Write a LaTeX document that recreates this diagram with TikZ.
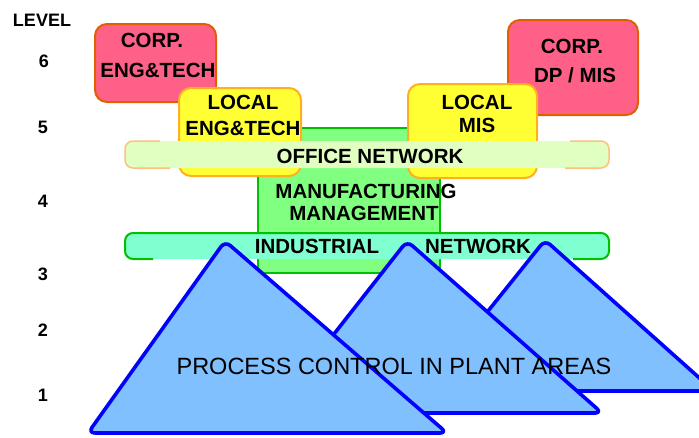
\documentclass[tikz,border=0pt]{standalone}
\usepackage{fontspec}
\setmainfont{Liberation Sans}
\usetikzlibrary{shapes.misc}
\definecolor{corpfill}{HTML}{FF6088}
\definecolor{corpline}{HTML}{E06000}
\definecolor{localfill}{HTML}{FFFF33}
\definecolor{localline}{HTML}{FFB020}
\definecolor{mgmtfill}{HTML}{80FF80}
\definecolor{mgmtline}{HTML}{00C000}
\definecolor{offfill}{HTML}{E0FFC0}
\definecolor{offline}{HTML}{FFC080}
\definecolor{indfill}{HTML}{80FFD0}
\definecolor{indline}{HTML}{00C000}
\definecolor{trifill}{HTML}{80C0FF}
\definecolor{triline}{HTML}{0000FF}
\begin{document}
\begin{tikzpicture}[x=1pt,y=-1pt,
  lbl/.style={font=\fontsize{20.5}{22}\selectfont\bfseries, inner sep=0pt},
  lvl/.style={font=\fontsize{18}{20}\selectfont\bfseries, inner sep=0pt},
  corpbox/.style={draw=corpline, fill=corpfill, line width=2pt, rounded corners=12pt, inner sep=0pt},
  localbox/.style={draw=localline, fill=localfill, line width=2pt, rounded corners=12pt, inner sep=0pt},
  mgmtbox/.style={chamfered rectangle, chamfered rectangle xsep=10pt, chamfered rectangle ysep=10pt, draw=mgmtline, fill=mgmtfill, line width=2pt, inner sep=0pt},
  band/.style={rounded corners=8pt, inner sep=0pt},
  tri/.style={draw=triline, fill=trifill, line width=3.6pt, rounded corners=7pt, line join=round},
]
\useasboundingbox (0,0) rectangle (699,437);

% corporate boxes
\node[corpbox, minimum width=121pt, minimum height=78pt] (ce) at (155.5,63) {};
\node[corpbox, minimum width=130pt, minimum height=95pt] (cd) at (573,67.5) {};
\node[lbl] (ce1) at (152,40) {CORP.};
\node[lbl] (ce2) at (158,70) {ENG\&TECH};
\node[lbl] (cd1) at (572,46) {CORP.};
\node[lbl] (cd2) at (575,75) {DP / MIS};

% manufacturing management box
\node[mgmtbox, minimum width=182pt, minimum height=145pt] (mm) at (349,200.5) {};

% local boxes
\node[localbox, minimum width=122pt, minimum height=88pt] (le) at (240,132) {};
\node[localbox, minimum width=129pt, minimum height=94pt] (lm) at (472.5,131) {};
\node[lbl] (le1) at (243,102) {LOCAL};
\node[lbl] (le2) at (243,128) {ENG\&TECH};
\node[lbl] (lm1) at (477,102) {LOCAL};
\node[lbl] (lm2) at (477,125) {MIS};

% office network band
\node[band, fill=offfill, minimum width=484pt, minimum height=27pt] (on) at (367,154.5) {};
\draw[offline, line width=1.5pt, rounded corners=8pt] (160,141) -- (125,141) -- (125,168) -- (170,168);
\draw[offline, line width=1.5pt, rounded corners=8pt] (570,141) -- (609,141) -- (609,168) -- (565,168);
\node[lbl] (ont) at (370,156) {OFFICE NETWORK};

% manufacturing text
\node[lbl] (mm1) at (366,191) {MANUFACTURING};
\node[lbl] (mm2) at (364,213) {MANAGEMENT};

% industrial network band
\node[band, fill=indfill, minimum width=484pt, minimum height=26pt] (in) at (367,246) {};
\draw[indline, line width=2pt, rounded corners=8pt] (153,259) -- (125,259) -- (125,233) -- (609,233) -- (609,259) -- (573,259);
\node[lbl] (in1) at (317,246) {INDUSTRIAL};
\node[lbl] (in2) at (478,246) {NETWORK};

% process control triangles
\draw[tri] (424,391) -- (545,240) -- (714,391) -- cycle;
\draw[tri] (272,413) -- (407,241) -- (602,413) -- cycle;
\draw[tri] (88,433) -- (225,241) -- (447,433) -- cycle;
\node[font=\fontsize{23.5}{26}\selectfont, inner sep=0pt] (pc) at (394,366) {PROCESS CONTROL IN PLANT AREAS};

% levels
\node[lvl] (lv) at (42,20) {LEVEL};
\node[lvl] (l6) at (44,61) {6};
\node[lvl] (l5) at (43,127) {5};
\node[lvl] (l4) at (43,201) {4};
\node[lvl] (l3) at (43,274) {3};
\node[lvl] (l2) at (43,330) {2};
\node[lvl] (l1) at (43,395) {1};
\end{tikzpicture}
\end{document}
